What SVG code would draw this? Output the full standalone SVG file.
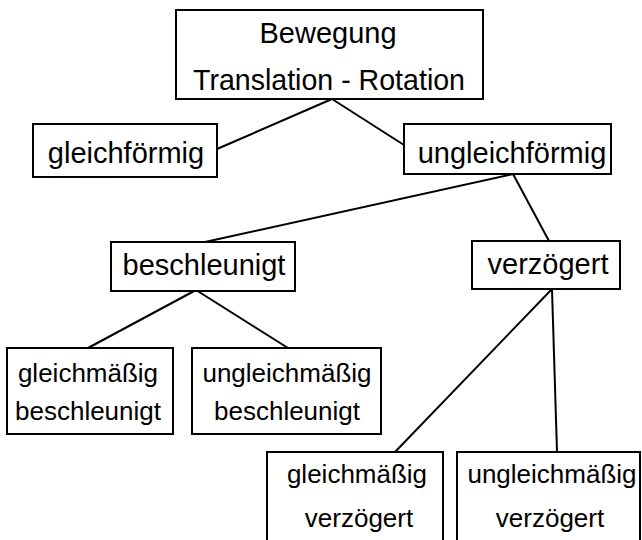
<svg xmlns="http://www.w3.org/2000/svg" width="642" height="540" viewBox="0 0 642 540">
<style>
.box{fill:#fff;stroke:#000;stroke-width:2}
.lbl{font-family:"Liberation Sans",Arial,sans-serif;font-size:29px;fill:#000;text-anchor:middle}
.sm{font-size:26px}
.con{stroke:#000;stroke-width:2;fill:none}
</style>
<rect width="642" height="540" fill="#fff"/>
<g id="connectors">
<line class="con" x1="332" y1="99" x2="217" y2="149"/>
<line class="con" x1="332" y1="99" x2="404" y2="145"/>
<line class="con" x1="513" y1="174" x2="205" y2="242"/>
<line class="con" x1="513" y1="174" x2="549" y2="241"/>
<line class="con" x1="196" y1="290" x2="88" y2="348"/>
<line class="con" x1="196" y1="290" x2="288" y2="348"/>
<line class="con" x1="552" y1="289" x2="395" y2="452"/>
<line class="con" x1="552" y1="289" x2="557" y2="452"/>
</g>
<g id="bewegung">
<rect class="box" x="176" y="10" width="307" height="89"/>
<text class="lbl" x="328" y="43">Bewegung</text>
<text class="lbl" x="329" y="90" textLength="272" lengthAdjust="spacingAndGlyphs">Translation - Rotation</text>
</g>
<g id="gleichfoermig">
<rect class="box" x="33" y="124" width="184" height="53"/>
<text class="lbl" x="126" y="163">gleichförmig</text>
</g>
<g id="ungleichfoermig">
<rect class="box" x="404" y="124" width="207" height="50"/>
<text class="lbl" x="512" y="163">ungleichförmig</text>
</g>
<g id="beschleunigt">
<rect class="box" x="111" y="242" width="184" height="49"/>
<text class="lbl" x="204" y="275">beschleunigt</text>
</g>
<g id="verzoegert">
<rect class="box" x="472" y="241" width="148" height="48"/>
<text class="lbl" x="548" y="274">verzögert</text>
</g>
<g id="gleichmaessig-beschleunigt">
<rect class="box" x="7" y="348" width="166" height="86"/>
<text class="lbl sm" x="88" y="382">gleichmäßig</text>
<text class="lbl sm" x="88" y="420">beschleunigt</text>
</g>
<g id="ungleichmaessig-beschleunigt">
<rect class="box" x="192" y="348" width="189" height="86"/>
<text class="lbl sm" x="287" y="382">ungleichmäßig</text>
<text class="lbl sm" x="287" y="420">beschleunigt</text>
</g>
<g id="gleichmaessig-verzoegert">
<rect class="box" x="267" y="452" width="176" height="100"/>
<text class="lbl sm" x="357" y="483">gleichmäßig</text>
<text class="lbl sm" x="359" y="527">verzögert</text>
</g>
<g id="ungleichmaessig-verzoegert">
<rect class="box" x="457" y="452" width="183" height="100"/>
<text class="lbl sm" x="552" y="483">ungleichmäßig</text>
<text class="lbl sm" x="550" y="527">verzögert</text>
</g>
</svg>
